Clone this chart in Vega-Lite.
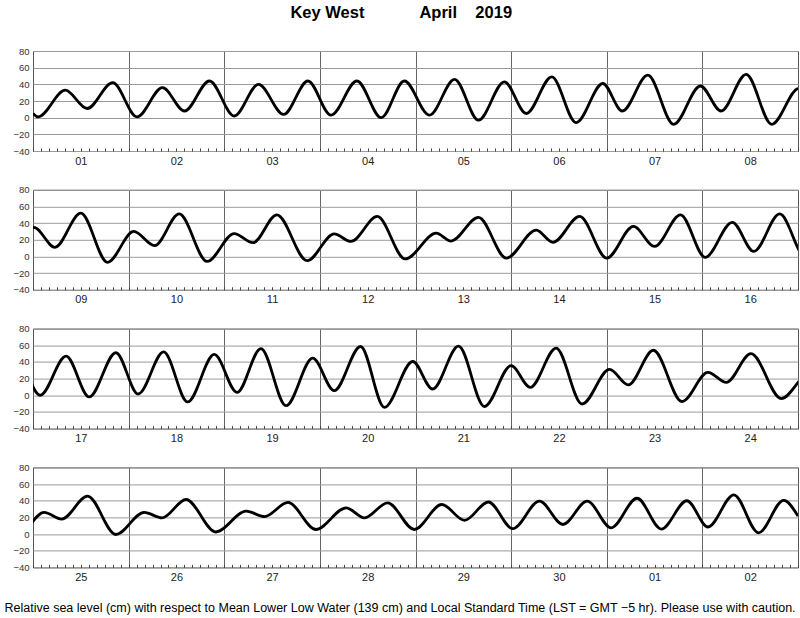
{
  "$schema": "https://vega.github.io/schema/vega-lite/v6.json",
  "padding": {"left": 3, "right": 0, "top": 5, "bottom": 0},
  "title": {
    "text": "Key West\u00a0\u00a0\u00a0\u00a0\u00a0\u00a0\u00a0\u00a0\u00a0\u00a0\u00a0\u00a0April\u00a0\u00a0\u00a0\u00a02019",
    "font": "Liberation Sans",
    "fontSize": 16.5,
    "fontWeight": "bold",
    "color": "#000",
    "anchor": "middle",
    "offset": 24
  },
  "config": {
    "font": "Liberation Sans",
    "view": {"stroke": "#555", "strokeWidth": 1},
    "axis": {"zindex": 0, "labelFont": "Liberation Sans", "titleFont": "Liberation Sans"}
  },
  "spacing": 38.8,
  "bounds": "flush",
  "data": {
    "values": [
      {"hour": 0.0, "level_cm": 5},
      {"hour": 1.3, "level_cm": 1},
      {"hour": 8.1, "level_cm": 33},
      {"hour": 13.6, "level_cm": 11},
      {"hour": 20.0, "level_cm": 42},
      {"hour": 26.1, "level_cm": 1},
      {"hour": 32.5, "level_cm": 36},
      {"hour": 38.0, "level_cm": 8},
      {"hour": 44.3, "level_cm": 44},
      {"hour": 50.5, "level_cm": 2},
      {"hour": 56.6, "level_cm": 40},
      {"hour": 62.9, "level_cm": 4},
      {"hour": 69.0, "level_cm": 44},
      {"hour": 74.8, "level_cm": 3},
      {"hour": 81.3, "level_cm": 44},
      {"hour": 87.4, "level_cm": 0},
      {"hour": 93.2, "level_cm": 44},
      {"hour": 99.5, "level_cm": 3},
      {"hour": 105.8, "level_cm": 46},
      {"hour": 111.8, "level_cm": -3},
      {"hour": 118.3, "level_cm": 43},
      {"hour": 123.8, "level_cm": 5},
      {"hour": 130.2, "level_cm": 49},
      {"hour": 136.3, "level_cm": -6},
      {"hour": 143.0, "level_cm": 41},
      {"hour": 147.9, "level_cm": 8},
      {"hour": 154.3, "level_cm": 51},
      {"hour": 160.8, "level_cm": -8},
      {"hour": 167.5, "level_cm": 38},
      {"hour": 172.7, "level_cm": 8},
      {"hour": 179.0, "level_cm": 52},
      {"hour": 185.4, "level_cm": -8},
      {"hour": 192.2, "level_cm": 35},
      {"hour": 197.5, "level_cm": 11},
      {"hour": 204.0, "level_cm": 52},
      {"hour": 210.7, "level_cm": -7},
      {"hour": 217.3, "level_cm": 30},
      {"hour": 222.5, "level_cm": 13},
      {"hour": 228.7, "level_cm": 51},
      {"hour": 235.7, "level_cm": -6},
      {"hour": 242.5, "level_cm": 27.5},
      {"hour": 247.2, "level_cm": 16.5},
      {"hour": 253.2, "level_cm": 50},
      {"hour": 260.8, "level_cm": -5},
      {"hour": 267.6, "level_cm": 27},
      {"hour": 271.8, "level_cm": 18},
      {"hour": 278.4, "level_cm": 48},
      {"hour": 285.4, "level_cm": -3},
      {"hour": 293.2, "level_cm": 28},
      {"hour": 296.9, "level_cm": 18.5},
      {"hour": 303.8, "level_cm": 47},
      {"hour": 310.8, "level_cm": -2},
      {"hour": 318.3, "level_cm": 31.5},
      {"hour": 322.5, "level_cm": 17},
      {"hour": 329.2, "level_cm": 48},
      {"hour": 336.0, "level_cm": -2},
      {"hour": 342.7, "level_cm": 36},
      {"hour": 348.0, "level_cm": 12},
      {"hour": 354.5, "level_cm": 50},
      {"hour": 360.7, "level_cm": -1},
      {"hour": 367.5, "level_cm": 41},
      {"hour": 372.9, "level_cm": 6},
      {"hour": 379.4, "level_cm": 51},
      {"hour": 385.8, "level_cm": 0},
      {"hour": 392.3, "level_cm": 47},
      {"hour": 398.1, "level_cm": -2},
      {"hour": 404.8, "level_cm": 51},
      {"hour": 410.4, "level_cm": 1.5},
      {"hour": 416.8, "level_cm": 52},
      {"hour": 422.8, "level_cm": -8},
      {"hour": 429.5, "level_cm": 49},
      {"hour": 435.2, "level_cm": 3.5},
      {"hour": 441.2, "level_cm": 56},
      {"hour": 447.5, "level_cm": -12.5},
      {"hour": 454.2, "level_cm": 44.5},
      {"hour": 459.6, "level_cm": 5.5},
      {"hour": 466.2, "level_cm": 58.5},
      {"hour": 472.2, "level_cm": -14.5},
      {"hour": 479.3, "level_cm": 40.5},
      {"hour": 484.3, "level_cm": 7.5},
      {"hour": 490.8, "level_cm": 59},
      {"hour": 497.3, "level_cm": -13.5},
      {"hour": 504.0, "level_cm": 35.5},
      {"hour": 508.8, "level_cm": 9.5},
      {"hour": 515.3, "level_cm": 56.5},
      {"hour": 521.8, "level_cm": -10.5},
      {"hour": 528.7, "level_cm": 31},
      {"hour": 533.4, "level_cm": 12.5},
      {"hour": 539.7, "level_cm": 54},
      {"hour": 546.9, "level_cm": -7.5},
      {"hour": 553.4, "level_cm": 27.5},
      {"hour": 558.0, "level_cm": 15.5},
      {"hour": 564.2, "level_cm": 50},
      {"hour": 571.8, "level_cm": -4},
      {"hour": 578.8, "level_cm": 26},
      {"hour": 583.2, "level_cm": 18},
      {"hour": 589.7, "level_cm": 45.5},
      {"hour": 596.8, "level_cm": -0.5},
      {"hour": 603.9, "level_cm": 26},
      {"hour": 608.4, "level_cm": 19.5},
      {"hour": 614.4, "level_cm": 41.5},
      {"hour": 621.9, "level_cm": 2.5},
      {"hour": 629.5, "level_cm": 27.5},
      {"hour": 634.1, "level_cm": 21},
      {"hour": 640.0, "level_cm": 38},
      {"hour": 647.0, "level_cm": 5.5},
      {"hour": 654.6, "level_cm": 31.5},
      {"hour": 659.2, "level_cm": 19.5},
      {"hour": 665.0, "level_cm": 37.5},
      {"hour": 671.7, "level_cm": 5.5},
      {"hour": 678.6, "level_cm": 35.5},
      {"hour": 684.3, "level_cm": 16.5},
      {"hour": 690.3, "level_cm": 38.5},
      {"hour": 696.4, "level_cm": 6.5},
      {"hour": 703.1, "level_cm": 39.5},
      {"hour": 709.0, "level_cm": 11.5},
      {"hour": 715.1, "level_cm": 39.5},
      {"hour": 721.1, "level_cm": 7.5},
      {"hour": 727.6, "level_cm": 43},
      {"hour": 733.7, "level_cm": 6},
      {"hour": 740.1, "level_cm": 40},
      {"hour": 745.4, "level_cm": 8.5},
      {"hour": 751.9, "level_cm": 47},
      {"hour": 758.1, "level_cm": 1.5},
      {"hour": 764.4, "level_cm": 40.5},
      {"hour": 768.0, "level_cm": 21.5}
    ]
  },
  "vconcat": [
    {
      "width": 765,
      "height": 100,
      "transform": [{"filter": {"field": "hour", "range": [-14, 206]}}],
      "encoding": {
        "y": {
          "field": "level_cm", "type": "quantitative",
          "scale": {"domain": [-40, 80], "nice": false, "zero": false},
          "axis": {"values": [-40, -20, 0, 20, 40, 60, 80], "grid": true, "gridColor": "#9a9a9a", "gridWidth": 1, "ticks": false, "domain": false, "labelFontSize": 9.5, "labelColor": "#333", "labelPadding": 4, "labelFlush": false, "labelOverlap": false, "title": null}
        }
      },
      "layer": [
        {
          "mark": {"type": "line", "strokeOpacity": 0, "clip": true},
          "encoding": {"x": {"field": "hour", "type": "quantitative", "scale": {"domain": [0, 192], "nice": false, "zero": false},
            "axis": {"orient": "bottom", "values": [24, 48, 72, 96, 120, 144, 168], "grid": true, "gridColor": "#666", "gridWidth": 1, "ticks": false, "labels": false, "domain": false, "title": null}}}
        },
        {
          "mark": {"type": "line", "strokeOpacity": 0, "clip": true},
          "encoding": {"x": {"field": "hour", "type": "quantitative", "scale": {"domain": [0, 192], "nice": false, "zero": false},
            "axis": {"orient": "bottom", "values": [12, 36, 60, 84, 108, 132, 156, 180], "labelExpr": "pad(toString(floor(datum.value/24)%30+1),2,'0','left')", "ticks": false, "domain": false, "grid": false, "labelFontSize": 11, "labelColor": "#222", "labelPadding": 4, "labelFlush": false, "labelOverlap": false, "title": null}}}
        },
        {
          "mark": {"type": "line", "interpolate": "monotone", "color": "#000", "strokeWidth": 2.8, "clip": true},
          "encoding": {"x": {"field": "hour", "type": "quantitative", "scale": {"domain": [0, 192], "nice": false, "zero": false},
            "axis": {"orient": "bottom", "tickCount": 96, "ticks": true, "tickSize": -3, "tickColor": "#444", "labels": false, "domain": false, "grid": false, "title": null}}}
        }
      ],
      "resolve": {"axis": {"x": "independent"}}
    },
    {
      "width": 765,
      "height": 100,
      "transform": [{"filter": {"field": "hour", "range": [178, 398]}}],
      "encoding": {
        "y": {
          "field": "level_cm", "type": "quantitative",
          "scale": {"domain": [-40, 80], "nice": false, "zero": false},
          "axis": {"values": [-40, -20, 0, 20, 40, 60, 80], "grid": true, "gridColor": "#9a9a9a", "gridWidth": 1, "ticks": false, "domain": false, "labelFontSize": 9.5, "labelColor": "#333", "labelPadding": 4, "labelFlush": false, "labelOverlap": false, "title": null}
        }
      },
      "layer": [
        {
          "mark": {"type": "line", "strokeOpacity": 0, "clip": true},
          "encoding": {"x": {"field": "hour", "type": "quantitative", "scale": {"domain": [192, 384], "nice": false, "zero": false},
            "axis": {"orient": "bottom", "values": [216, 240, 264, 288, 312, 336, 360], "grid": true, "gridColor": "#666", "gridWidth": 1, "ticks": false, "labels": false, "domain": false, "title": null}}}
        },
        {
          "mark": {"type": "line", "strokeOpacity": 0, "clip": true},
          "encoding": {"x": {"field": "hour", "type": "quantitative", "scale": {"domain": [192, 384], "nice": false, "zero": false},
            "axis": {"orient": "bottom", "values": [204, 228, 252, 276, 300, 324, 348, 372], "labelExpr": "pad(toString(floor(datum.value/24)%30+1),2,'0','left')", "ticks": false, "domain": false, "grid": false, "labelFontSize": 11, "labelColor": "#222", "labelPadding": 4, "labelFlush": false, "labelOverlap": false, "title": null}}}
        },
        {
          "mark": {"type": "line", "interpolate": "monotone", "color": "#000", "strokeWidth": 2.8, "clip": true},
          "encoding": {"x": {"field": "hour", "type": "quantitative", "scale": {"domain": [192, 384], "nice": false, "zero": false},
            "axis": {"orient": "bottom", "tickCount": 96, "ticks": true, "tickSize": -3, "tickColor": "#444", "labels": false, "domain": false, "grid": false, "title": null}}}
        }
      ],
      "resolve": {"axis": {"x": "independent"}}
    },
    {
      "width": 765,
      "height": 100,
      "transform": [{"filter": {"field": "hour", "range": [370, 590]}}],
      "encoding": {
        "y": {
          "field": "level_cm", "type": "quantitative",
          "scale": {"domain": [-40, 80], "nice": false, "zero": false},
          "axis": {"values": [-40, -20, 0, 20, 40, 60, 80], "grid": true, "gridColor": "#9a9a9a", "gridWidth": 1, "ticks": false, "domain": false, "labelFontSize": 9.5, "labelColor": "#333", "labelPadding": 4, "labelFlush": false, "labelOverlap": false, "title": null}
        }
      },
      "layer": [
        {
          "mark": {"type": "line", "strokeOpacity": 0, "clip": true},
          "encoding": {"x": {"field": "hour", "type": "quantitative", "scale": {"domain": [384, 576], "nice": false, "zero": false},
            "axis": {"orient": "bottom", "values": [408, 432, 456, 480, 504, 528, 552], "grid": true, "gridColor": "#666", "gridWidth": 1, "ticks": false, "labels": false, "domain": false, "title": null}}}
        },
        {
          "mark": {"type": "line", "strokeOpacity": 0, "clip": true},
          "encoding": {"x": {"field": "hour", "type": "quantitative", "scale": {"domain": [384, 576], "nice": false, "zero": false},
            "axis": {"orient": "bottom", "values": [396, 420, 444, 468, 492, 516, 540, 564], "labelExpr": "pad(toString(floor(datum.value/24)%30+1),2,'0','left')", "ticks": false, "domain": false, "grid": false, "labelFontSize": 11, "labelColor": "#222", "labelPadding": 4, "labelFlush": false, "labelOverlap": false, "title": null}}}
        },
        {
          "mark": {"type": "line", "interpolate": "monotone", "color": "#000", "strokeWidth": 2.8, "clip": true},
          "encoding": {"x": {"field": "hour", "type": "quantitative", "scale": {"domain": [384, 576], "nice": false, "zero": false},
            "axis": {"orient": "bottom", "tickCount": 96, "ticks": true, "tickSize": -3, "tickColor": "#444", "labels": false, "domain": false, "grid": false, "title": null}}}
        }
      ],
      "resolve": {"axis": {"x": "independent"}}
    },
    {
      "width": 765,
      "height": 100,
      "transform": [{"filter": {"field": "hour", "range": [562, 782]}}],
      "encoding": {
        "y": {
          "field": "level_cm", "type": "quantitative",
          "scale": {"domain": [-40, 80], "nice": false, "zero": false},
          "axis": {"values": [-40, -20, 0, 20, 40, 60, 80], "grid": true, "gridColor": "#9a9a9a", "gridWidth": 1, "ticks": false, "domain": false, "labelFontSize": 9.5, "labelColor": "#333", "labelPadding": 4, "labelFlush": false, "labelOverlap": false, "title": null}
        }
      },
      "layer": [
        {
          "mark": {"type": "line", "strokeOpacity": 0, "clip": true},
          "encoding": {"x": {"field": "hour", "type": "quantitative", "scale": {"domain": [576, 768], "nice": false, "zero": false},
            "axis": {"orient": "bottom", "values": [600, 624, 648, 672, 696, 720, 744], "grid": true, "gridColor": "#666", "gridWidth": 1, "ticks": false, "labels": false, "domain": false, "title": null}}}
        },
        {
          "mark": {"type": "line", "strokeOpacity": 0, "clip": true},
          "encoding": {"x": {"field": "hour", "type": "quantitative", "scale": {"domain": [576, 768], "nice": false, "zero": false},
            "axis": {"orient": "bottom", "values": [588, 612, 636, 660, 684, 708, 732, 756], "labelExpr": "pad(toString(floor(datum.value/24)%30+1),2,'0','left')", "ticks": false, "domain": false, "grid": false, "labelFontSize": 11, "labelColor": "#222", "labelPadding": 4, "labelFlush": false, "labelOverlap": false,
              "title": "Relative sea level (cm) with respect to Mean Lower Low Water (139 cm) and Local Standard Time (LST = GMT \u22125 hr). Please use with caution.",
              "titleFontSize": 12.5, "titleFontWeight": "normal", "titleColor": "#000", "titleAnchor": "start", "titleAlign": "left", "titleX": -29, "titlePadding": 19}}}
        },
        {
          "mark": {"type": "line", "interpolate": "monotone", "color": "#000", "strokeWidth": 2.8, "clip": true},
          "encoding": {"x": {"field": "hour", "type": "quantitative", "scale": {"domain": [576, 768], "nice": false, "zero": false},
            "axis": {"orient": "bottom", "tickCount": 96, "ticks": true, "tickSize": -3, "tickColor": "#444", "labels": false, "domain": false, "grid": false, "title": null}}}
        }
      ],
      "resolve": {"axis": {"x": "independent"}}
    }
  ]
}
